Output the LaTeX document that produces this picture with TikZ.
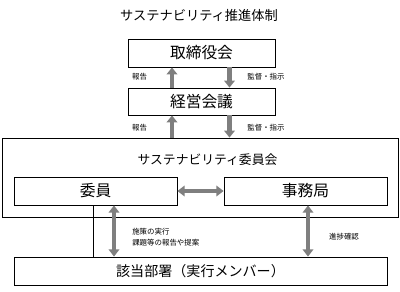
\documentclass[tikz,border=0pt]{standalone}
\usepackage{fontspec}
\setmainfont{Noto Sans CJK JP}
\usetikzlibrary{arrows.meta}
\definecolor{arrgray}{HTML}{7F7F7F}
\begin{document}
\begin{tikzpicture}[x=0.25mm,y=-0.25mm,
  box/.style={draw=black,line width=0.6pt,inner sep=0pt,fill=white},
  bigarrow/.style={draw=arrgray,line width=3.4pt,-{Triangle[width=7.6pt,length=5pt]}},
  bigdarrow/.style={draw=arrgray,line width=3.2pt,{Triangle[width=7.6pt,length=5.2pt]}-{Triangle[width=7.6pt,length=5.2pt]}},
  small/.style={font=\fontsize{5.3}{6.5}\selectfont,inner sep=0pt},
  boxtext/.style={font=\fontsize{11.2}{13}\selectfont}]
\useasboundingbox (0,0) rectangle (400,291);
\node[font=\fontsize{9.4}{11}\selectfont] (title) at (199,15) {サステナビリティ推進体制};
\node[box,boxtext,minimum width=36.75mm,minimum height=7mm] (torishimari) at (201.5,53) {取締役会};
\node[box,boxtext,minimum width=36.75mm,minimum height=6.75mm] (keiei) at (201.5,101.5) {経営会議};
\node[box,minimum width=99mm,minimum height=19.75mm] (outer) at (200,177.5) {};
\node[font=\fontsize{9.1}{11}\selectfont] (iinkai) at (207.5,160) {サステナビリティ委員会};
\node[box,boxtext,minimum width=40.75mm,minimum height=7mm] (iin) at (95.5,191) {委員};
\node[box,boxtext,minimum width=40.75mm,minimum height=7mm] (jimu) at (305.5,191) {事務局};
\node[box,font=\fontsize{10}{12}\selectfont,minimum width=93.25mm,minimum height=7mm] (gaitou) at (200.5,271) {該当部署（実行メンバー）};
% arrows between boards
\coordinate (ux) at (172,0);
\coordinate (dx) at (229.5,0);
\draw[bigarrow] (keiei.north -| ux) -- (torishimari.south -| ux);
\draw[bigarrow] (torishimari.south -| dx) -- (keiei.north -| dx);
\draw[bigarrow] (outer.north -| ux) -- (keiei.south -| ux);
\draw[bigarrow] (keiei.south -| dx) -- (outer.north -| dx);
\node[small] (hokoku1) at (139.5,77) {報告};
\node[small] (kantoku1) at (266,77) {監督・指示};
\node[small] (hokoku2) at (139.5,128) {報告};
\node[small] (kantoku2) at (266,128) {監督・指示};
% committee
\draw[bigdarrow] (iin.east) -- (jimu.west);
\coordinate (lx) at (93,0);
\coordinate (ax) at (114,0);
\coordinate (bx) at (308,0);
\draw[line width=0.6pt] (iin.south -| lx) -- (gaitou.north -| lx);
\draw[bigdarrow] (iin.south -| ax) -- (gaitou.north -| ax);
\draw[bigdarrow] (jimu.south -| bx) -- (gaitou.north -| bx);
\node[small,anchor=west] (shisaku) at (132,232) {施策の実行};
\node[small,anchor=west] (kadai) at (132,242.5) {課題等の報告や提案};
\node[small] (shinchoku) at (344,237) {進捗確認};
\end{tikzpicture}
\end{document}
